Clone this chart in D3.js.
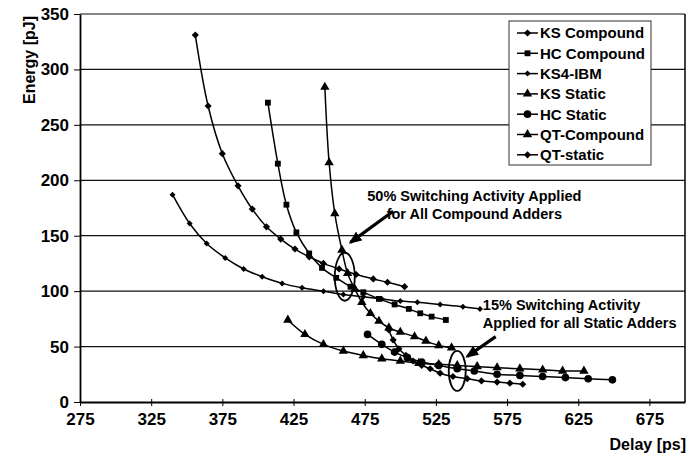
<!DOCTYPE html>
<html>
<head>
<meta charset="utf-8">
<script src="https://cdn.jsdelivr.net/npm/d3@7"></script>
<style>
body { margin: 0; background: #fff; }
text { font-family: "Liberation Sans", Arial, Helvetica, sans-serif; font-weight: bold; fill: #000; }
</style>
</head>
<body>
<div id="wrapper"></div>
<script>
// series, in legend order
var seriesNames = ["KS Compound", "HC Compound", "KS4-IBM", "KS Static", "HC Static", "QT-Compound", "QT-static"];
var markerTypes = ["diamond", "square", "dot", "triangle", "circle", "triangle", "diamond"];

var ksCompoundDelay  = [356, 365, 375, 386, 396, 406, 416, 426, 436, 446, 457, 469, 481, 491, 503];
var ksCompoundEnergy = [331, 267, 224, 195, 174, 158, 147, 138, 131, 125, 120, 115, 111, 108, 104];

var hcCompoundDelay  = [407, 414, 420, 427, 436, 445, 455, 465, 474, 485, 496, 506, 514, 522, 532];
var hcCompoundEnergy = [270, 215, 178, 153, 134, 121, 112, 104, 99, 93, 88, 84, 80, 77, 74];

var ks4IbmDelay  = [340, 352, 364, 377, 390, 403, 417, 431, 446, 460, 474, 487, 500, 512, 528, 544, 556];
var ks4IbmEnergy = [187, 161, 143, 130, 120, 113, 107, 103, 100, 97, 95, 93, 91, 90, 88, 86, 84];

var ksStaticDelay  = [421, 433, 446, 460, 474, 487, 500, 513, 527, 540, 554, 568, 584, 600, 614, 629];
var ksStaticEnergy = [74, 61, 52, 46, 42, 39, 37, 35, 34, 33, 32, 31, 30, 29, 28, 28];

var hcStaticDelay  = [477, 487, 496, 505, 515, 527, 540, 552, 568, 584, 600, 616, 632, 649];
var hcStaticEnergy = [61, 52, 45, 40, 36, 33, 30, 28, 25, 24, 23, 22, 21, 20];

var qtCompoundDelay  = [447, 450, 454, 459, 463, 468, 473, 479, 485, 492, 500, 510, 518, 527, 536];
var qtCompoundEnergy = [284, 216, 170, 137, 116, 102, 90, 80, 73, 67, 63, 59, 55, 51, 49];

var qtStaticDelay  = [492, 495, 499, 504, 509, 515, 521, 528, 537, 547, 557, 568, 577, 586];
var qtStaticEnergy = [65, 56, 48, 42, 37, 33, 30, 26, 23, 21, 19, 18, 17, 16];

var xTicks = [275, 325, 375, 425, 475, 525, 575, 625, 675];
var yTicks = [0, 50, 100, 150, 200, 250, 300, 350];

// annotations (data units)
var note50Lines = ["50% Switching Activity Applied", "for All Compound Adders"];
var note50Pos = [552, 181];
var ellipse50 = [461, 113];
var arrow50 = [[495, 172], [465, 144]];

var note15Lines = ["15% Switching Activity", "Applied for all Static Adders"];
var note15Pos = [558, 83];
var ellipse15 = [540, 28];
var arrow15 = [[567, 59], [547, 41]];

drawChart('#wrapper');

function drawChart(dom_element_to_append_to) {
    var width = 691, height = 459;
    var left = 80, right = 685, top = 14, bottom = 402;

    var allDelay = [ksCompoundDelay, hcCompoundDelay, ks4IbmDelay, ksStaticDelay, hcStaticDelay, qtCompoundDelay, qtStaticDelay];
    var allEnergy = [ksCompoundEnergy, hcCompoundEnergy, ks4IbmEnergy, ksStaticEnergy, hcStaticEnergy, qtCompoundEnergy, qtStaticEnergy];
    var series = seriesNames.map(function(name, i) {
        return { name: name, marker: markerTypes[i],
                 values: allDelay[i].map(function(d, j) { return [d, allEnergy[i][j]]; }) };
    });

    var x = d3.scaleLinear().domain([275, 700]).range([left, right]);
    var y = d3.scaleLinear().domain([0, 350]).range([bottom, top]);

    var svg = d3.select(dom_element_to_append_to)
        .append("svg")
        .attr("width", width)
        .attr("height", height);

    // gridlines
    svg.append("g")
        .selectAll("line")
        .data(yTicks.filter(function(d) { return d > 0; }))
        .enter()
        .append("line")
        .attr("x1", left).attr("x2", right)
        .attr("y1", d => y(d)).attr("y2", d => y(d))
        .attr("stroke", "#111").attr("stroke-width", 1.2);

    // right border
    svg.append("line")
        .attr("x1", right).attr("x2", right).attr("y1", top).attr("y2", bottom)
        .attr("stroke", "#000").attr("stroke-width", 1.5);

    // axes
    var xAxis = svg.append("g")
        .attr("transform", "translate(0," + bottom + ")")
        .call(d3.axisBottom(x).tickValues(xTicks).tickSize(4).tickPadding(7).tickSizeOuter(0));
    xAxis.selectAll(".tick line").attr("y1", -3);
    xAxis.select(".domain").attr("stroke-width", 1.8);
    xAxis.selectAll("text").style("font-size", "17px");

    var yAxis = svg.append("g")
        .attr("transform", "translate(" + left + ",0)")
        .call(d3.axisLeft(y).tickValues(yTicks).tickSize(6).tickPadding(5).tickSizeOuter(0));
    yAxis.select(".domain").attr("stroke-width", 1.8);
    yAxis.selectAll("text").style("font-size", "17px");

    svg.append("text")
        .attr("transform", "translate(35," + 60 + ") rotate(-90)")
        .attr("text-anchor", "middle")
        .style("font-size", "16px")
        .text("Energy [pJ]");

    svg.append("text")
        .attr("x", 686).attr("y", 450)
        .attr("text-anchor", "end")
        .style("font-size", "16px")
        .text("Delay [ps]");

    // markers
    function markerPath(type) {
        if (type === "square") return d3.symbol(d3.symbolSquare, 34)();
        if (type === "triangle") return d3.symbol(d3.symbolTriangle, 38)();
        if (type === "circle") return d3.symbol(d3.symbolCircle, 46)();
        if (type === "dot") return "M0,-3L3,0L0,3L-3,0Z";
        return "M0,-3.6L3.6,0L0,3.6L-3.6,0Z";
    }

    var line = d3.line()
        .x(d => x(d[0]))
        .y(d => y(d[1]))
        .curve(d3.curveCatmullRom.alpha(0.5));

    var g = svg.selectAll(".series")
        .data(series)
        .enter()
        .append("g")
        .attr("class", "series");

    g.append("path")
        .attr("d", d => line(d.values))
        .attr("fill", "none")
        .attr("stroke", "#000")
        .attr("stroke-width", 1.5);

    g.each(function(s) {
        d3.select(this).selectAll(".pt")
            .data(s.values)
            .enter()
            .append("path")
            .attr("class", "pt")
            .attr("d", markerPath(s.marker))
            .attr("transform", d => "translate(" + x(d[0]) + "," + y(d[1]) + ")")
            .attr("fill", "#000");
    });

    // annotations
    svg.append("defs").append("marker")
        .attr("id", "head")
        .attr("markerUnits", "userSpaceOnUse")
        .attr("viewBox", "0 0 12 10")
        .attr("refX", 10).attr("refY", 5)
        .attr("markerWidth", 13).attr("markerHeight", 11)
        .attr("orient", "auto")
        .append("path")
        .attr("d", "M0,0L12,5L0,10Z")
        .attr("fill", "#000");

    [[ellipse50, 10, 24], [ellipse15, 8.5, 20]].forEach(function(e) {
        svg.append("ellipse")
            .attr("cx", x(e[0][0])).attr("cy", y(e[0][1]))
            .attr("rx", e[1]).attr("ry", e[2])
            .attr("fill", "none").attr("stroke", "#000").attr("stroke-width", 1.8);
    });

    [arrow50, arrow15].forEach(function(a) {
        svg.append("line")
            .attr("x1", x(a[0][0])).attr("y1", y(a[0][1]))
            .attr("x2", x(a[1][0])).attr("y2", y(a[1][1]))
            .attr("stroke", "#000").attr("stroke-width", 3.2)
            .attr("marker-end", "url(#head)");
    });

    svg.append("text")
        .attr("text-anchor", "middle")
        .style("font-size", "14.5px")
        .selectAll("tspan")
        .data(note50Lines)
        .enter()
        .append("tspan")
        .attr("x", x(note50Pos[0]))
        .attr("y", (d, i) => y(note50Pos[1]) + i * 18)
        .text(d => d);

    svg.append("text")
        .attr("text-anchor", "start")
        .style("font-size", "14.5px")
        .selectAll("tspan")
        .data(note15Lines)
        .enter()
        .append("tspan")
        .attr("x", x(note15Pos[0]))
        .attr("y", (d, i) => y(note15Pos[1]) + i * 18)
        .text(d => d);

    // legend
    var legend = svg.append("g").attr("transform", "translate(509,21)");
    legend.append("rect")
        .attr("width", 142).attr("height", 144)
        .attr("fill", "#fff").attr("stroke", "#333").attr("stroke-width", 1);

    var item = legend.selectAll(".item")
        .data(series)
        .enter()
        .append("g")
        .attr("transform", (d, i) => "translate(0," + (12 + i * 20.3) + ")");
    item.append("line")
        .attr("x1", 8).attr("x2", 29)
        .attr("stroke", "#000").attr("stroke-width", 1.5);
    item.append("path")
        .attr("transform", "translate(18.5,0)")
        .attr("d", d => markerPath(d.marker))
        .attr("fill", "#000");
    item.append("text")
        .attr("x", 31)
        .attr("dy", "0.36em")
        .style("font-size", "15px")
        .text(d => d.name);
}
</script>
</body>
</html>
